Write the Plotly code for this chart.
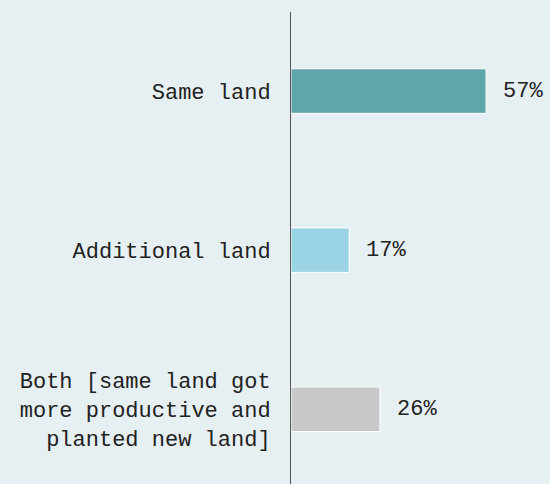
import plotly.graph_objects as go

categories = ["Same land", "Additional land",
              "Both [same land got<br>more productive and<br>planted new land]"]
values = [57, 17, 26]
labels = ["57%", "17%", "26%"]
colors = ["#5fa5a9", "#9ad3e3", "#c8c8ca"]

FONT = "Liberation Mono"
BG = "#e6eff1"

fig = go.Figure()
fig.add_trace(go.Bar(
    x=values, y=categories, orientation="h",
    marker=dict(color=colors, line=dict(color="white", width=1)),
    width=0.28, hoverinfo="skip",
))
for v, c, t in zip(values, categories, labels):
    fig.add_annotation(x=v, y=c, text=t, showarrow=False, xanchor="left",
                       xshift=15, font=dict(family=FONT, size=22, color="#222"))

fig.update_layout(
    width=550, height=484,
    margin=dict(l=291, r=0, t=12, b=0),
    paper_bgcolor=BG, plot_bgcolor=BG,
    showlegend=False,
    font=dict(family=FONT, size=22, color="#222"),
    xaxis=dict(range=[0, 75.7], showgrid=False, zeroline=False,
               showticklabels=False, showline=False),
    yaxis=dict(type="category", categoryorder="array", categoryarray=categories,
               range=[2.47, -0.497], showgrid=False, zeroline=False,
               showline=True, linecolor="#555", linewidth=1,
               ticks="", ticklabelstandoff=15),
)
fig.write_html("out.html", config={"displayModeBar": False},
               post_script="document.body.style.margin='0';document.body.style.background='%s';" % BG)
